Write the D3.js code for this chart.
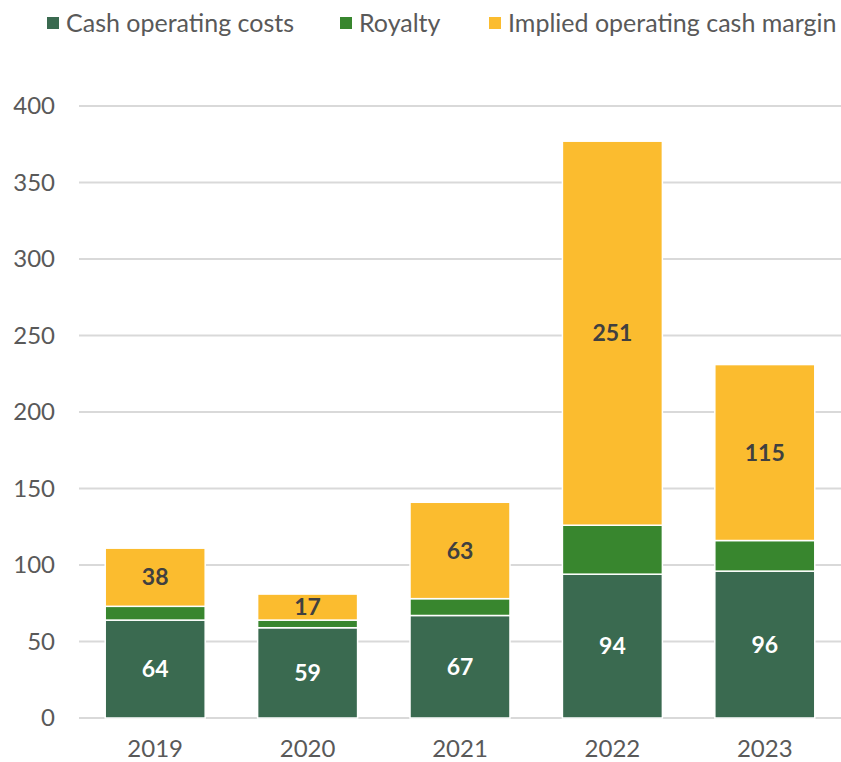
<!DOCTYPE html>
<html>
<head>
<meta charset="utf-8">
<script src="https://cdn.jsdelivr.net/npm/d3@7"></script>
<style>
body { margin: 0; background: #fff; }
text { font-family: Lato, "Open Sans", sans-serif; }
</style>
</head>
<body>
<div id="chart"></div>
<script>
var width = 841, height = 762;

var years = ["2019", "2020", "2021", "2022", "2023"];
var cashCosts = [64, 59, 67, 94, 96];
var royalty = [9, 5, 11, 32, 20];
var margin = [38, 17, 63, 251, 115];
var seriesNames = ["Cash operating costs", "Royalty", "Implied operating cash margin"];
var colors = ["#3a6a50", "#38862e", "#fbbc2f"];
var yTicks = [0, 50, 100, 150, 200, 250, 300, 350, 400];

var svg = d3.select("#chart").append("svg")
    .attr("width", width)
    .attr("height", height);

var x = d3.scaleBand().domain(years).range([79, 841]).paddingInner(0.344).paddingOuter(0.172);
var y = d3.scaleLinear().domain([0, 400]).range([718, 106]);

// gridlines
svg.append("g")
    .selectAll("line")
    .data(yTicks)
    .enter().append("line")
    .attr("x1", 79).attr("x2", 841)
    .attr("y1", d => y(d)).attr("y2", d => y(d))
    .attr("stroke", "#d9d9d9")
    .attr("stroke-width", 2);

// y labels
svg.append("g")
    .selectAll("text")
    .data(yTicks)
    .enter().append("text")
    .attr("x", 55)
    .attr("y", d => y(d))
    .attr("dy", "0.35em")
    .attr("text-anchor", "end")
    .attr("fill", "#595959")
    .style("font-size", "24px")
    .text(d => d);

// x labels
svg.append("g")
    .selectAll("text")
    .data(years)
    .enter().append("text")
    .attr("x", d => x(d) + x.bandwidth() / 2)
    .attr("y", 749)
    .attr("dy", "0.35em")
    .attr("text-anchor", "middle")
    .attr("fill", "#595959")
    .style("font-size", "24px")
    .text(d => d);

var rows = years.map((yr, i) => ({ year: yr, cash: cashCosts[i], royalty: royalty[i], margin: margin[i] }));
var stack = d3.stack().keys(["cash", "royalty", "margin"]);
var stacked = stack(rows);

var layers = svg.append("g")
    .selectAll("g")
    .data(stacked)
    .enter().append("g")
    .attr("fill", (d, i) => colors[i]);

layers.selectAll("rect")
    .data(d => d)
    .enter().append("rect")
    .attr("x", d => x(d.data.year))
    .attr("width", x.bandwidth())
    .attr("y", d => y(d[1]))
    .attr("height", d => y(d[0]) - y(d[1]))
    .attr("stroke", "#fff")
    .attr("stroke-width", 1.5);

// value labels (royalty has none)
stacked.forEach(function(layer, i) {
    if (i === 1) return;
    svg.append("g")
        .selectAll("text")
        .data(layer)
        .enter().append("text")
        .attr("x", d => x(d.data.year) + x.bandwidth() / 2)
        .attr("y", d => (y(d[0]) + y(d[1])) / 2)
        .attr("dy", "0.35em")
        .attr("text-anchor", "middle")
        .attr("fill", i === 0 ? "#fff" : "#404040")
        .style("font-size", "23px")
        .style("font-weight", "bold")
        .text(d => d[1] - d[0]);
});

// legend
var legendX = [47, 340, 489];
var legend = svg.append("g")
    .selectAll("g")
    .data(seriesNames)
    .enter().append("g")
    .attr("transform", (d, i) => "translate(" + legendX[i] + ",23)");

legend.append("rect")
    .attr("x", 0).attr("y", -6)
    .attr("width", 12).attr("height", 12)
    .attr("fill", (d, i) => colors[i]);

legend.append("text")
    .attr("x", 19)
    .attr("dy", "0.35em")
    .attr("fill", "#595959")
    .style("font-size", "25px")
    .text(d => d);
</script>
</body>
</html>
